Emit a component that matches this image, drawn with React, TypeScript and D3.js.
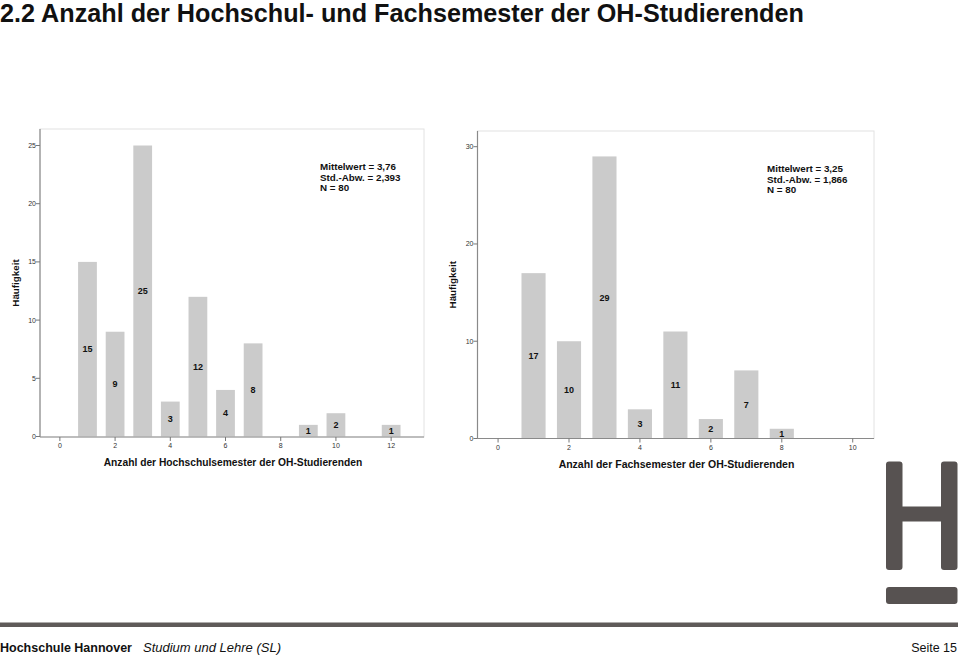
import React from "react";
import * as d3 from "d3";

const titleText = "2.2 Anzahl der Hochschul- und Fachsemester der OH-Studierenden";

const hsSemester = [1, 2, 3, 4, 5, 6, 7, 9, 10, 12];
const hsCounts = [15, 9, 25, 3, 12, 4, 8, 1, 2, 1];
const hsXTicks = [0, 2, 4, 6, 8, 10, 12];
const hsYTicks = [0, 5, 10, 15, 20, 25];
const hsStats = ["Mittelwert = 3,76", "Std.-Abw. = 2,393", "N = 80"];
const hsXLabel = "Anzahl der Hochschulsemester der OH-Studierenden";

const fsSemester = [1, 2, 3, 4, 5, 6, 7, 8];
const fsCounts = [17, 10, 29, 3, 11, 2, 7, 1];
const fsXTicks = [0, 2, 4, 6, 8, 10];
const fsYTicks = [0, 10, 20, 30];
const fsStats = ["Mittelwert = 3,25", "Std.-Abw. = 1,866", "N = 80"];
const fsXLabel = "Anzahl der Fachsemester der OH-Studierenden";

const yLabel = "Häufigkeit";

const FONT = "'Liberation Sans', Arial, sans-serif";

type HistProps = {
  left: number;
  right: number;
  top: number;
  bottom: number;
  xDomain: [number, number];
  yDomain: [number, number];
  zeroY: number;
  maxY: number;
  xs: number[];
  ys: number[];
  xTicks: number[];
  yTicks: number[];
  stats: string[];
  statsX: number;
  statsY: number;
  xLabel: string;
  xLabelX: number;
  xLabelY: number;
  xLabelSize: number;
  yLabelX: number;
  tickLabelY: number;
};

function Histogram(p: HistProps) {
  const x = d3.scaleLinear().domain(p.xDomain).range([p.left, p.right]);
  const y = d3.scaleLinear().domain(p.yDomain).range([p.zeroY, p.maxY]);
  const bw = x(0.68) - x(0);
  return (
    <g fontFamily={FONT}>
      <rect x={p.left} y={p.top} width={p.right - p.left} height={p.bottom - p.top} fill="#fff" stroke="#e2e2e2" strokeWidth={1} />
      {p.xs.map((v, i) => (
        <rect key={"b" + i} x={x(v) - bw / 2} y={y(p.ys[i])} width={bw} height={y(0) - y(p.ys[i])} fill="#cbcbcb" />
      ))}
      {p.xs.map((v, i) => (
        <text key={"l" + i} x={x(v)} y={y(p.ys[i] / 2)} dy="0.35em" textAnchor="middle" fontSize={9} fontWeight="bold" fill="#111">
          {p.ys[i]}
        </text>
      ))}
      <line x1={p.left} x2={p.right} y1={p.bottom} y2={p.bottom} stroke="#8a8a8a" strokeWidth={1.2} />
      <line x1={p.left} x2={p.left} y1={p.top} y2={p.bottom} stroke="#8a8a8a" strokeWidth={1.2} />
      {p.yTicks.map((t) => (
        <g key={"yt" + t}>
          <line x1={p.left - 4} x2={p.left} y1={y(t)} y2={y(t)} stroke="#777" strokeWidth={1} />
          <text x={p.left - 4} y={y(t)} dy="0.35em" textAnchor="end" fontSize={7} fill="#333">
            {t}
          </text>
        </g>
      ))}
      {p.xTicks.map((t) => (
        <g key={"xt" + t}>
          <line x1={x(t)} x2={x(t)} y1={p.bottom} y2={p.bottom + 4} stroke="#777" strokeWidth={1} />
          <text x={x(t)} y={p.tickLabelY} dy="0.35em" textAnchor="middle" fontSize={7} fill="#333">
            {t}
          </text>
        </g>
      ))}
      {p.stats.map((s, i) => (
        <text key={"s" + i} x={p.statsX} y={p.statsY + i * 10.5} dy="0.35em" fontSize={9.8} fontWeight="bold" fill="#111">
          {s}
        </text>
      ))}
      <text x={p.xLabelX} y={p.xLabelY} dy="0.35em" textAnchor="middle" fontSize={p.xLabelSize} fontWeight="bold" fill="#111">
        {p.xLabel}
      </text>
      <text transform={`translate(${p.yLabelX},${(p.top + p.bottom) / 2})rotate(-90)`} dy="0.35em" textAnchor="middle" fontSize={9.8} fontWeight="bold" fill="#111">
        {yLabel}
      </text>
    </g>
  );
}

export default function App() {
  return (
    <div style={{ position: "absolute", left: 0, top: 0 }}>
      <svg width={960} height={655} style={{ display: "block" }}>
        <rect width={960} height={655} fill="#fff" />
        <text x={0} y={22} fontFamily={FONT} fontSize={25.2} fontWeight="bold" fill="#111">
          {titleText}
        </text>

        <Histogram
          left={40}
          right={424}
          top={129}
          bottom={437}
          xDomain={[-0.72, 13.19]}
          yDomain={[0, 25]}
          zeroY={436.5}
          maxY={145.5}
          xs={hsSemester}
          ys={hsCounts}
          xTicks={hsXTicks}
          yTicks={hsYTicks}
          stats={hsStats}
          statsX={320}
          statsY={167}
          xLabel={hsXLabel}
          xLabelX={233}
          xLabelY={462}
          xLabelSize={10.25}
          yLabelX={16}
          tickLabelY={446}
        />

        <Histogram
          left={477.5}
          right={874}
          top={131}
          bottom={438.5}
          xDomain={[-0.58, 10.6]}
          yDomain={[0, 30]}
          zeroY={438.5}
          maxY={146.7}
          xs={fsSemester}
          ys={fsCounts}
          xTicks={fsXTicks}
          yTicks={fsYTicks}
          stats={fsStats}
          statsX={767}
          statsY={169}
          xLabel={fsXLabel}
          xLabelX={676.5}
          xLabelY={464}
          xLabelSize={10.5}
          yLabelX={453}
          tickLabelY={448}
        />

        <g fill="#575251">
          <rect x={886} y={461.5} width={16.5} height={108.5} rx={3} />
          <rect x={941} y={461.5} width={16.5} height={108.5} rx={3} />
          <rect x={900} y={506.5} width={43} height={15} />
          <rect x={886} y={587} width={71.5} height={17} rx={3} />
        </g>

        <rect x={0} y={622.5} width={958} height={4.5} fill="#5f5a59" />
        <text x={0} y={652} fontFamily={FONT} fontSize={12.5} fill="#111">
          <tspan fontWeight="bold">Hochschule Hannover</tspan>
          <tspan dx={11} fontStyle="italic" fontSize={13}>Studium und Lehre (SL)</tspan>
        </text>
        <text x={957} y={652} textAnchor="end" fontFamily={FONT} fontSize={12.5} fill="#111">
          Seite 15
        </text>
      </svg>
    </div>
  );
}
